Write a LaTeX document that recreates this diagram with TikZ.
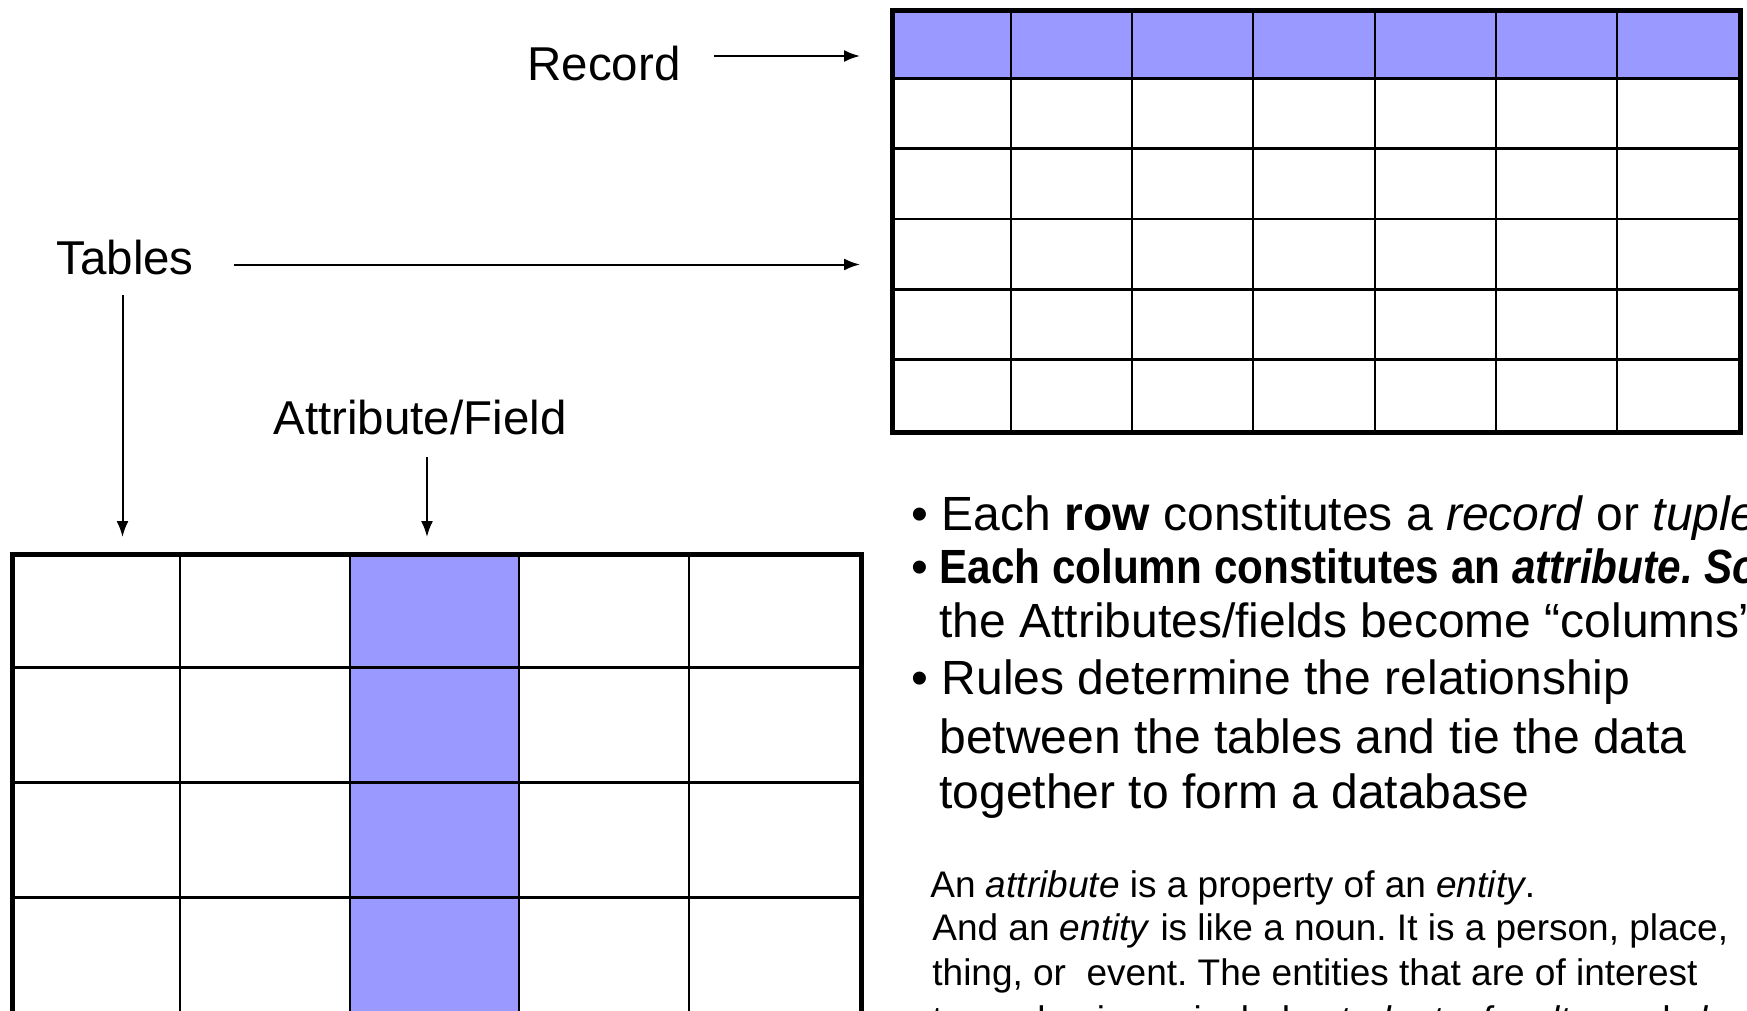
\documentclass[tikz,border=0pt]{standalone}
\usepackage{fontspec}
\setmainfont{Liberation Sans}
\usetikzlibrary{arrows.meta}
\definecolor{hilite}{HTML}{9999FF}

\begin{document}
\frenchspacing
\begin{tikzpicture}[x=0.5pt,y=-0.5pt,
  lbl/.style={font=\fontsize{23.75}{28}\selectfont, inner sep=0, anchor=base west},
  body/.style={font=\fontsize{24}{28}\selectfont, inner sep=0, anchor=base west},
  note/.style={font=\fontsize{18.5}{22}\selectfont, inner sep=0, anchor=base west},
  arr/.style={-{Latex[length=8pt,width=6pt]}, line width=1pt},
  vline/.style={line width=1pt},
  hline/.style={line width=1.3pt},
  frame/.style={draw, line width=2.5pt, inner sep=0, anchor=north west}]
\useasboundingbox (0,0) rectangle (1747,1011);
\clip (0,0) rectangle (1747,1011);
\fill[white] (0,0) rectangle (1747,1011);

% table with its first row (a record) highlighted: 7 columns x 6 rows
\fill[hilite] (890,8) rectangle (1738,79.3);
\foreach \i in {1,...,6}
  \draw[vline] ({890+\i*121.14},8) -- ({890+\i*121.14},430);
\foreach \j in {1,...,5}
  \draw[hline] (890,{8+\j*70.33}) -- (1738,{8+\j*70.33});
\node[frame, minimum width=424pt, minimum height=211pt] (rectab) at (890,8) {};

% table with its third column (an attribute) highlighted: 5 columns
\fill[hilite] (349.6,552) rectangle (519.4,1130);
\foreach \i in {1,...,4}
  \draw[vline] ({10+\i*169.8},552) -- ({10+\i*169.8},1130);
\foreach \j in {1,...,4}
  \draw[hline] (10,{552+\j*115.2}) -- (859,{552+\j*115.2});
\node[frame, minimum width=424.5pt, minimum height=288pt] (coltab) at (10,552) {};

% labels
\node[lbl] (record) at (527,81) {Record};
\node[lbl] (tables) at (56,274) {Tables};
\node[lbl] (attr) at (273,434) {Attribute/Field};

% pointers
\coordinate (recFrom) at (714,56);
\coordinate (recTo) at (860,56);
\coordinate (tabFrom) at (234,264.5);
\coordinate (tabTo) at (860,264.5);
\coordinate (tabDownFrom) at (122.5,295);
\coordinate (tabDownTo) at (122.5,537);
\coordinate (attrFrom) at (427,457);
\coordinate (attrTo) at (427,537);
\draw[arr] (recFrom) -- (recTo);
\draw[arr] (tabFrom) -- (tabTo);
\draw[arr] (tabDownFrom) -- (tabDownTo);
\draw[arr] (attrFrom) -- (attrTo);

% bullet points
\node[body] (dot1) at (911,530) {•};
\node[body] (b1) at (941.5,530) {Each \textbf{row} constitutes a \textit{record} or \textit{tuple}.};
\node[body] (dot2) at (911,583) {•};
\node[body] (b2a) at (939,583) {\scalebox{0.88}[1]{\textbf{Each column constitutes an \textit{attribute. So}}}};
\node[body] (b2b) at (939,637) {the Attributes/fields become “columns”.};
\node[body] (dot3) at (911,694) {•};
\node[body] (b3a) at (941.5,694) {Rules determine the relationship};
\node[body] (b3b) at (939,753) {between the tables and tie the data};
\node[body] (b3c) at (939,808) {together to form a database};

% note
\node[note] (n1) at (930,897) {An \textit{attribute} is a property of an \textit{entity}.};
\node[note] (n2) at (932,940) {And an \textit{entity} is like a noun. It is a person, place,};
\node[note] (n3) at (932,985) {thing, or\ \ event. The entities that are of interest};
\node[note] (n4) at (932,1032) {to our business include \textit{students}, \textit{faculty}, and \textit{classes}.};
\end{tikzpicture}
\end{document}
